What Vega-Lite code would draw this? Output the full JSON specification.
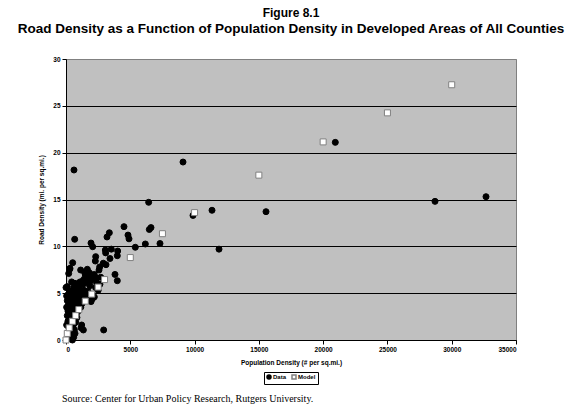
{
  "$schema": "https://vega.github.io/schema/vega-lite/v6.json",
  "background": "white",
  "padding": {"left": 17, "top": 7, "right": 5, "bottom": 5},
  "title": {
    "text": "Figure 8.1",
    "subtitle": "Road Density as a Function of Population Density in Developed Areas of All Counties",
    "anchor": "middle",
    "frame": "group",
    "font": "Liberation Sans",
    "fontSize": 12,
    "fontWeight": "bold",
    "color": "black",
    "subtitleFont": "Liberation Sans",
    "subtitleFontSize": 13.5,
    "subtitleFontWeight": "bold",
    "subtitleColor": "black",
    "subtitlePadding": 2,
    "offset": 19
  },
  "resolve": {"legend": {"color": "independent", "shape": "independent", "stroke": "independent"}},
  "config": {
    "view": {"fill": "#c0c0c0", "stroke": "#808080", "strokeWidth": 1},
    "legend": {"layout": {"bottom": {"anchor": "middle"}}},
    "axis": {
      "labelFont": "Liberation Sans",
      "labelFontSize": 6.5,
      "labelFontWeight": "bold",
      "labelColor": "black",
      "titleFont": "Liberation Sans",
      "titleFontSize": 6.5,
      "titleFontWeight": "bold",
      "titleColor": "black",
      "domainColor": "black",
      "tickColor": "black",
      "tickSize": 4
    }
  },
  "vconcat": [
    {
      "width": 450,
      "height": 281,
      "title": {
        "text": "Source: Center for Urban Policy Research, Rutgers University.",
        "orient": "bottom",
        "anchor": "start",
        "frame": "group",
        "font": "Liberation Serif",
        "fontSize": 10,
        "fontWeight": "normal",
        "color": "black",
        "offset": 9,
        "dx": -4
      },
      "data": {
        "values": [
          {"pop": 622, "road": 18.15, "series": "Data"},
          {"pop": 9100, "road": 19.0, "series": "Data"},
          {"pop": 9878, "road": 13.3, "series": "Data"},
          {"pop": 11356, "road": 13.85, "series": "Data"},
          {"pop": 11900, "road": 9.7, "series": "Data"},
          {"pop": 6430, "road": 14.7, "series": "Data"},
          {"pop": 6480, "road": 11.8, "series": "Data"},
          {"pop": 6610, "road": 12.0, "series": "Data"},
          {"pop": 4511, "road": 12.1, "series": "Data"},
          {"pop": 4822, "road": 11.2, "series": "Data"},
          {"pop": 4900, "road": 10.8, "series": "Data"},
          {"pop": 5390, "road": 9.9, "series": "Data"},
          {"pop": 6170, "road": 10.25, "series": "Data"},
          {"pop": 7310, "road": 10.3, "series": "Data"},
          {"pop": 675, "road": 10.75, "series": "Data"},
          {"pop": 3370, "road": 11.45, "series": "Data"},
          {"pop": 3190, "road": 11.0, "series": "Data"},
          {"pop": 3085, "road": 9.3, "series": "Data"},
          {"pop": 3060, "road": 9.6, "series": "Data"},
          {"pop": 3420, "road": 8.7, "series": "Data"},
          {"pop": 3525, "road": 9.7, "series": "Data"},
          {"pop": 4020, "road": 9.5, "series": "Data"},
          {"pop": 3990, "road": 9.0, "series": "Data"},
          {"pop": 1945, "road": 10.35, "series": "Data"},
          {"pop": 2075, "road": 9.96, "series": "Data"},
          {"pop": 2310, "road": 8.9, "series": "Data"},
          {"pop": 2280, "road": 8.43, "series": "Data"},
          {"pop": 2620, "road": 7.8, "series": "Data"},
          {"pop": 3110, "road": 8.04, "series": "Data"},
          {"pop": 1140, "road": 7.47, "series": "Data"},
          {"pop": 520, "road": 8.25, "series": "Data"},
          {"pop": 285, "road": 7.55, "series": "Data"},
          {"pop": 210, "road": 7.1, "series": "Data"},
          {"pop": 2930, "road": 1.07, "series": "Data"},
          {"pop": 0, "road": 5.6, "series": "Data"},
          {"pop": 20946, "road": 21.1, "series": "Data"},
          {"pop": 15556, "road": 13.7, "series": "Data"},
          {"pop": 28700, "road": 14.8, "series": "Data"},
          {"pop": 32667, "road": 15.3, "series": "Data"},
          {"pop": 3810, "road": 7.0, "series": "Data"},
          {"pop": 3990, "road": 6.33, "series": "Data"},
          {"pop": 2900, "road": 8.2, "series": "Data"},
          {"pop": 2570, "road": 7.47, "series": "Data"},
          {"pop": 100, "road": 5.7, "series": "Data"},
          {"pop": 440, "road": 6.2, "series": "Data"},
          {"pop": 700, "road": 6.05, "series": "Data"},
          {"pop": 1090, "road": 6.2, "series": "Data"},
          {"pop": 1350, "road": 6.4, "series": "Data"},
          {"pop": 2390, "road": 6.05, "series": "Data"},
          {"pop": 2640, "road": 5.95, "series": "Data"},
          {"pop": 2120, "road": 6.48, "series": "Data"},
          {"pop": 2000, "road": 6.94, "series": "Data"},
          {"pop": 1810, "road": 7.19, "series": "Data"},
          {"pop": 1660, "road": 7.55, "series": "Data"},
          {"pop": 310, "road": 7.65, "series": "Data"},
          {"pop": 1500, "road": 6.8, "series": "Data"},
          {"pop": 1750, "road": 6.6, "series": "Data"},
          {"pop": 2200, "road": 7.0, "series": "Data"},
          {"pop": 2400, "road": 6.6, "series": "Data"},
          {"pop": 1300, "road": 5.9, "series": "Data"},
          {"pop": 900, "road": 5.8, "series": "Data"},
          {"pop": 600, "road": 5.6, "series": "Data"},
          {"pop": 1600, "road": 6.1, "series": "Data"},
          {"pop": 1900, "road": 6.3, "series": "Data"},
          {"pop": 2300, "road": 5.6, "series": "Data"},
          {"pop": 2700, "road": 6.7, "series": "Data"},
          {"pop": 1000, "road": 5.5, "series": "Data"},
          {"pop": 300, "road": 5.2, "series": "Data"},
          {"pop": 150, "road": 4.8, "series": "Data"},
          {"pop": 1450, "road": 7.2, "series": "Data"},
          {"pop": 1850, "road": 5.8, "series": "Data"},
          {"pop": 2500, "road": 5.3, "series": "Data"},
          {"pop": 50, "road": 4.7, "series": "Data"},
          {"pop": 200, "road": 4.9, "series": "Data"},
          {"pop": 350, "road": 4.6, "series": "Data"},
          {"pop": 500, "road": 5.0, "series": "Data"},
          {"pop": 650, "road": 4.8, "series": "Data"},
          {"pop": 800, "road": 5.2, "series": "Data"},
          {"pop": 950, "road": 4.9, "series": "Data"},
          {"pop": 1100, "road": 5.1, "series": "Data"},
          {"pop": 1250, "road": 4.8, "series": "Data"},
          {"pop": 1400, "road": 5.3, "series": "Data"},
          {"pop": 1550, "road": 5.0, "series": "Data"},
          {"pop": 1700, "road": 5.2, "series": "Data"},
          {"pop": 1850, "road": 4.7, "series": "Data"},
          {"pop": 2050, "road": 4.4, "series": "Data"},
          {"pop": 2200, "road": 4.6, "series": "Data"},
          {"pop": 1950, "road": 4.1, "series": "Data"},
          {"pop": 100, "road": 4.2, "series": "Data"},
          {"pop": 250, "road": 4.0, "series": "Data"},
          {"pop": 400, "road": 4.3, "series": "Data"},
          {"pop": 550, "road": 4.1, "series": "Data"},
          {"pop": 700, "road": 4.4, "series": "Data"},
          {"pop": 850, "road": 4.5, "series": "Data"},
          {"pop": 1000, "road": 4.2, "series": "Data"},
          {"pop": 1150, "road": 4.3, "series": "Data"},
          {"pop": 1300, "road": 4.5, "series": "Data"},
          {"pop": 1450, "road": 4.7, "series": "Data"},
          {"pop": 1650, "road": 4.5, "series": "Data"},
          {"pop": 1750, "road": 4.2, "series": "Data"},
          {"pop": 50, "road": 3.5, "series": "Data"},
          {"pop": 200, "road": 3.8, "series": "Data"},
          {"pop": 350, "road": 3.3, "series": "Data"},
          {"pop": 500, "road": 3.6, "series": "Data"},
          {"pop": 650, "road": 3.9, "series": "Data"},
          {"pop": 800, "road": 3.7, "series": "Data"},
          {"pop": 950, "road": 3.8, "series": "Data"},
          {"pop": 1100, "road": 3.6, "series": "Data"},
          {"pop": 1250, "road": 3.9, "series": "Data"},
          {"pop": 150, "road": 3.1, "series": "Data"},
          {"pop": 300, "road": 2.9, "series": "Data"},
          {"pop": 450, "road": 3.2, "series": "Data"},
          {"pop": 600, "road": 3.0, "series": "Data"},
          {"pop": 750, "road": 3.3, "series": "Data"},
          {"pop": 900, "road": 3.0, "series": "Data"},
          {"pop": 1150, "road": 3.5, "series": "Data"},
          {"pop": 100, "road": 2.6, "series": "Data"},
          {"pop": 250, "road": 2.4, "series": "Data"},
          {"pop": 400, "road": 2.7, "series": "Data"},
          {"pop": 550, "road": 2.5, "series": "Data"},
          {"pop": 700, "road": 2.2, "series": "Data"},
          {"pop": 850, "road": 2.4, "series": "Data"},
          {"pop": 150, "road": 2.0, "series": "Data"},
          {"pop": 300, "road": 1.8, "series": "Data"},
          {"pop": 450, "road": 2.1, "series": "Data"},
          {"pop": 600, "road": 1.7, "series": "Data"},
          {"pop": 750, "road": 1.9, "series": "Data"},
          {"pop": 50, "road": 1.6, "series": "Data"},
          {"pop": 200, "road": 1.4, "series": "Data"},
          {"pop": 350, "road": 1.2, "series": "Data"},
          {"pop": 500, "road": 1.4, "series": "Data"},
          {"pop": 650, "road": 1.1, "series": "Data"},
          {"pop": 250, "road": 0.8, "series": "Data"},
          {"pop": 400, "road": 0.9, "series": "Data"},
          {"pop": 550, "road": 0.6, "series": "Data"},
          {"pop": 700, "road": 0.7, "series": "Data"},
          {"pop": 300, "road": 0.3, "series": "Data"},
          {"pop": 450, "road": 0.2, "series": "Data"},
          {"pop": 600, "road": 0.3, "series": "Data"},
          {"pop": 500, "road": 0.0, "series": "Data"},
          {"pop": 400, "road": 0.1, "series": "Data"},
          {"pop": 1220, "road": 1.6, "series": "Data"},
          {"pop": 1350, "road": 1.07, "series": "Data"},
          {"pop": 1180, "road": 1.3, "series": "Data"},
          {"pop": 0, "road": 0.0, "series": "Model"},
          {"pop": 100, "road": 0.7, "series": "Model"},
          {"pop": 250, "road": 1.3, "series": "Model"},
          {"pop": 500, "road": 2.0, "series": "Model"},
          {"pop": 750, "road": 2.6, "series": "Model"},
          {"pop": 1000, "road": 3.25, "series": "Model"},
          {"pop": 1500, "road": 4.15, "series": "Model"},
          {"pop": 2000, "road": 4.9, "series": "Model"},
          {"pop": 2500, "road": 5.65, "series": "Model"},
          {"pop": 3000, "road": 6.45, "series": "Model"},
          {"pop": 5000, "road": 8.8, "series": "Model"},
          {"pop": 7500, "road": 11.35, "series": "Model"},
          {"pop": 10000, "road": 13.6, "series": "Model"},
          {"pop": 15000, "road": 17.6, "series": "Model"},
          {"pop": 20000, "road": 21.15, "series": "Model"},
          {"pop": 25000, "road": 24.25, "series": "Model"},
          {"pop": 30000, "road": 27.25, "series": "Model"}
        ]
      },
      "mark": {"type": "point", "filled": true, "size": 36, "strokeWidth": 1, "opacity": 1, "clip": false},
      "encoding": {
        "x": {
          "field": "pop",
          "type": "quantitative",
          "scale": {"domain": [0, 35000], "nice": false, "zero": true},
          "axis": {
            "values": [0, 5000, 10000, 15000, 20000, 25000, 30000, 35000],
            "format": "d",
            "grid": false,
            "title": "Population Density (# per sq.mi.)",
            "titlePadding": 7,
            "labelPadding": 2
          }
        },
        "y": {
          "field": "road",
          "type": "quantitative",
          "scale": {"domain": [0, 30], "nice": false},
          "axis": {
            "values": [0, 5, 10, 15, 20, 25, 30],
            "grid": true,
            "gridColor": {"condition": {"test": "datum.value == 30", "value": "#808080"}, "value": "black"},
            "gridWidth": 1,
            "gridOpacity": 1,
            "title": "Road Density (mi. per sq.mi.)",
            "titlePadding": 8,
            "labelPadding": 2
          }
        },
        "color": {
          "field": "series",
          "type": "nominal",
          "scale": {"domain": ["Data", "Model"], "range": ["black", "white"]},
          "legend": {
            "title": null,
            "orient": "bottom",
            "direction": "horizontal",
            "strokeColor": "black",
            "padding": 2,
            "offset": 6,
            "labelFont": "Liberation Sans",
            "labelFontSize": 6,
            "labelFontWeight": "bold",
            "labelColor": "black",
            "symbolSize": 16,
            "columnPadding": 2,
            "labelOffset": 1
          }
        },
        "shape": {
          "field": "series",
          "type": "nominal",
          "scale": {"domain": ["Data", "Model"], "range": ["circle", "square"]},
          "legend": {"title": null}
        },
        "stroke": {
          "field": "series",
          "type": "nominal",
          "scale": {"domain": ["Data", "Model"], "range": ["black", "#808080"]},
          "legend": {"title": null}
        }
      }
    }
  ]
}
